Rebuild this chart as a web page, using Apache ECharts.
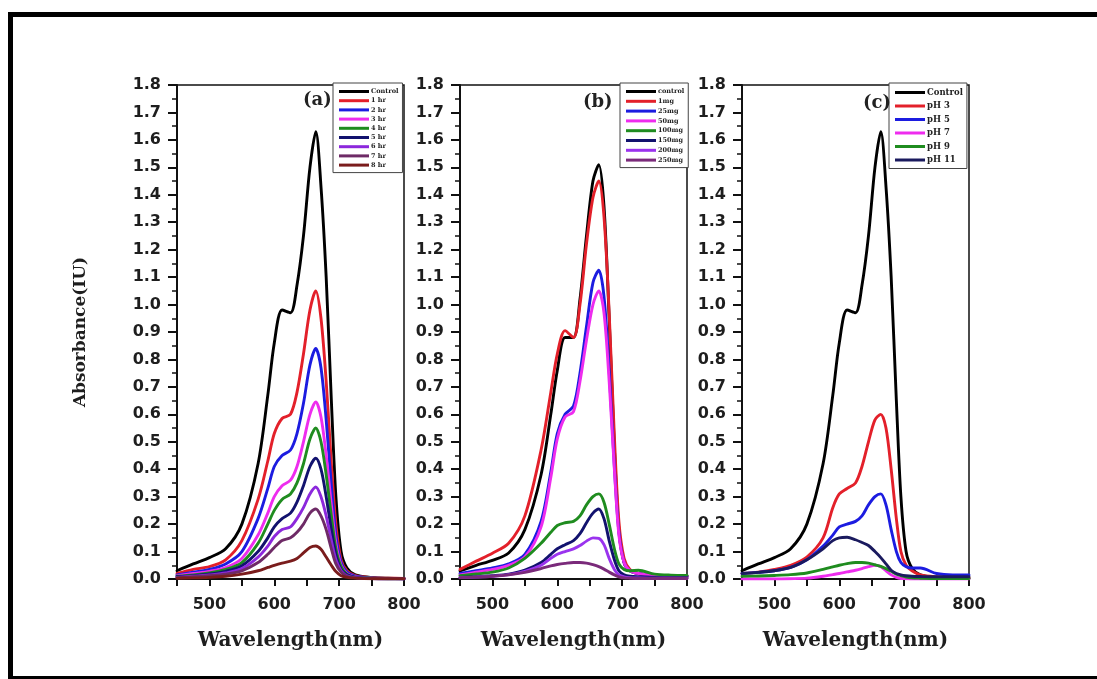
<!DOCTYPE html>
<html>
<head>
<meta charset="utf-8">
<title>Absorbance spectra</title>
<script src="https://cdn.jsdelivr.net/npm/echarts@6/dist/echarts.min.js"></script>
<style>
  html, body { margin: 0; padding: 0; background: #fff; }
  #chart { width: 1097px; height: 679px; }
</style>
</head>
<body>
<div id="chart"></div>
<script>
// Shared wavelength grid (nm)
const wavelengths = [450,475,500,525,550,575,590,600,612,625,635,645,655,664,672,680,688,695,703,712,725,750,775,800];

// Untreated dye spectrum (used in panels a and c)
const controlSpectrum = [0.03,0.055,0.078,0.11,0.2,0.42,0.67,0.86,0.98,0.97,1.07,1.25,1.5,1.63,1.43,1.1,0.65,0.3,0.1,0.04,0.015,0.006,0.003,0.002];

// (a) contact time
const timeLabels = ['Control','1 hr','2 hr','3 hr','4 hr','5 hr','6 hr','7 hr','8 hr'];
const hr1 = [0.02,0.035,0.045,0.07,0.14,0.29,0.43,0.53,0.585,0.6,0.68,0.82,0.98,1.05,0.95,0.72,0.42,0.2,0.07,0.03,0.012,0.005,0.003,0.002];
const hr2 = [0.015,0.025,0.035,0.055,0.1,0.22,0.33,0.41,0.45,0.47,0.53,0.64,0.78,0.84,0.77,0.58,0.34,0.16,0.06,0.025,0.01,0.004,0.002,0.001];
const hr3 = [0.012,0.02,0.028,0.042,0.075,0.16,0.24,0.3,0.34,0.36,0.41,0.5,0.6,0.645,0.59,0.45,0.27,0.13,0.05,0.02,0.008,0.003,0.002,0.001];
const hr4 = [0.01,0.015,0.022,0.035,0.06,0.13,0.2,0.25,0.29,0.31,0.35,0.42,0.51,0.55,0.5,0.38,0.23,0.11,0.045,0.018,0.007,0.003,0.001,0.001];
const hr5 = [0.008,0.012,0.018,0.028,0.048,0.1,0.15,0.19,0.22,0.24,0.28,0.34,0.41,0.44,0.4,0.3,0.18,0.09,0.035,0.015,0.006,0.002,0.001,0.001];
const hr6 = [0.006,0.01,0.015,0.022,0.038,0.08,0.12,0.155,0.18,0.19,0.22,0.26,0.31,0.335,0.3,0.23,0.14,0.07,0.03,0.012,0.005,0.002,0.001,0.001];
const hr7 = [0.005,0.008,0.012,0.018,0.03,0.06,0.09,0.115,0.14,0.15,0.17,0.2,0.24,0.255,0.23,0.18,0.11,0.055,0.025,0.01,0.004,0.002,0.001,0.001];
const hr8 = [0.003,0.004,0.006,0.01,0.018,0.03,0.042,0.05,0.058,0.065,0.075,0.095,0.115,0.12,0.108,0.08,0.05,0.027,0.012,0.006,0.003,0.001,0.001,0.001];

// (b) adsorbent dose
const doseLabels = ['control','1mg','25mg','50mg','100mg','150mg','200mg','250mg'];
const doseControl = [0.03,0.05,0.068,0.095,0.18,0.38,0.6,0.76,0.88,0.88,1.02,1.25,1.45,1.51,1.36,0.95,0.48,0.18,0.06,0.03,0.02,0.012,0.01,0.01];
const mg1 = [0.035,0.065,0.094,0.13,0.23,0.47,0.68,0.82,0.905,0.88,1.0,1.22,1.39,1.45,1.32,0.97,0.52,0.21,0.075,0.035,0.02,0.012,0.01,0.01];
const mg25 = [0.02,0.03,0.04,0.055,0.09,0.21,0.39,0.53,0.6,0.63,0.75,0.92,1.08,1.125,1.03,0.76,0.41,0.17,0.06,0.03,0.02,0.012,0.01,0.01];
const mg50 = [0.015,0.025,0.035,0.05,0.08,0.19,0.37,0.51,0.59,0.61,0.72,0.87,1.0,1.05,0.97,0.72,0.4,0.16,0.06,0.03,0.02,0.012,0.01,0.01];
const mg100 = [0.012,0.018,0.025,0.04,0.075,0.13,0.17,0.195,0.205,0.21,0.23,0.27,0.3,0.31,0.28,0.2,0.11,0.055,0.035,0.03,0.032,0.018,0.014,0.013];
const mg150 = [0.006,0.008,0.012,0.018,0.032,0.06,0.09,0.11,0.125,0.14,0.165,0.205,0.24,0.255,0.22,0.14,0.07,0.03,0.015,0.01,0.008,0.006,0.005,0.005];
const mg200 = [0.005,0.007,0.01,0.016,0.028,0.05,0.075,0.09,0.1,0.11,0.122,0.138,0.15,0.148,0.125,0.075,0.035,0.015,0.008,0.005,0.004,0.003,0.003,0.003];
const mg250 = [0.005,0.007,0.01,0.015,0.024,0.038,0.048,0.053,0.057,0.06,0.06,0.058,0.052,0.045,0.036,0.025,0.015,0.008,0.004,0.003,0.002,0.002,0.002,0.002];

// (c) solution pH
const phLabels = ['Control','pH 3','pH 5','pH 7','pH 9','pH 11'];
const ph3 = [0.02,0.025,0.035,0.05,0.08,0.15,0.26,0.31,0.33,0.35,0.41,0.5,0.58,0.6,0.55,0.4,0.22,0.1,0.05,0.03,0.015,0.008,0.006,0.005];
const ph5 = [0.02,0.024,0.03,0.042,0.07,0.12,0.16,0.19,0.2,0.21,0.23,0.27,0.3,0.31,0.27,0.18,0.1,0.06,0.045,0.04,0.04,0.02,0.015,0.015];
const ph7 = [0,0,0,0.001,0.003,0.01,0.016,0.02,0.026,0.032,0.038,0.045,0.05,0.045,0.03,0.015,0.006,0.002,0.001,0,0,0,0,0];
const ph9 = [0.01,0.011,0.013,0.016,0.022,0.035,0.044,0.05,0.056,0.06,0.06,0.058,0.052,0.046,0.038,0.028,0.018,0.012,0.007,0.004,0.003,0.002,0.002,0.002];
const ph11 = [0.02,0.024,0.03,0.042,0.07,0.11,0.14,0.15,0.152,0.143,0.133,0.122,0.1,0.078,0.055,0.032,0.02,0.015,0.012,0.01,0.009,0.008,0.008,0.008];

const yTicks = { min: 0, max: 1.8, interval: 0.1 };
const xTicks = { min: 450, max: 800, interval: 50 };

const panels = [
  { tag: '(a)', labels: timeLabels, data: [controlSpectrum, hr1, hr2, hr3, hr4, hr5, hr6, hr7, hr8],
    colors: ['#000000','#e3202a','#1c1ce0','#ee2cee','#1f8c1f','#12126e','#8c28dc','#6e2a66','#7a1c1c'],
    grid: { left: 177, right: 693 }, legend: { left: 333, top: 83, gap: 2.2, font: 6.5 }, tagPos: [318, 102] },
  { tag: '(b)', labels: doseLabels, data: [doseControl, mg1, mg25, mg50, mg100, mg150, mg200, mg250],
    colors: ['#000000','#e3202a','#1c1ce0','#ee2cee','#1f8c1f','#12126e','#9a33ee','#7a2a7a'],
    grid: { left: 460, right: 410 }, legend: { left: 620, top: 83, gap: 2.8, font: 6.5 }, tagPos: [598, 104] },
  { tag: '(c)', labels: phLabels, data: [controlSpectrum, ph3, ph5, ph7, ph9, ph11],
    colors: ['#000000','#e3202a','#1c1ce0','#ee2cee','#1f8c1f','#1a1a5e'],
    grid: { left: 742, right: 128 }, legend: { left: 889, top: 83, gap: 4.5, font: 8.5 }, tagPos: [878, 105] }
];

const tickFont = 'DejaVu Sans';
const titleFont = 'DejaVu Serif';

const grids = [], xAxes = [], yAxes = [], series = [], legends = [], graphics = [];

panels.forEach((p, i) => {
  grids.push({ left: p.grid.left, right: p.grid.right, top: 85, bottom: 100,
    show: true, borderColor: '#111', borderWidth: 1.5, backgroundColor: '#fff' });
  xAxes.push({
    type: 'value', gridIndex: i, min: xTicks.min, max: xTicks.max, interval: xTicks.interval,
    axisLine: { show: true, onZero: false, lineStyle: { color: '#111', width: 2 } },
    axisTick: { show: true, length: 7, lineStyle: { color: '#111', width: 2 } },
    splitLine: { show: false },
    axisLabel: { margin: 18, fontFamily: tickFont, fontWeight: 'bold', fontSize: 16, color: '#1e1e1e',
      formatter: v => (v % 100 === 0 && v > xTicks.min) ? String(v) : '' },
    name: 'Wavelength(nm)', nameLocation: 'middle', nameGap: 52,
    nameTextStyle: { fontFamily: titleFont, fontWeight: 'bold', fontSize: 20, color: '#1e1e1e' }
  });
  yAxes.push({
    type: 'value', gridIndex: i, min: yTicks.min, max: yTicks.max, interval: yTicks.interval,
    axisLine: { show: true, lineStyle: { color: '#111', width: 2 } },
    axisTick: { show: true, length: 9, lineStyle: { color: '#111', width: 2 } },
    minorTick: { show: true, splitNumber: 2, length: 5, lineStyle: { color: '#111', width: 1.5 } },
    splitLine: { show: false },
    axisLabel: { margin: 16, fontFamily: tickFont, fontWeight: 'bold', fontSize: 16, color: '#1e1e1e',
      formatter: v => v.toFixed(1) },
    name: i === 0 ? 'Absorbance(IU)' : '', nameLocation: 'middle', nameGap: 88,
    nameTextStyle: { fontFamily: titleFont, fontWeight: 'bold', fontSize: 17, color: '#1e1e1e' }
  });
  p.labels.forEach((name, k) => {
    series.push({
      type: 'line', name: name, xAxisIndex: i, yAxisIndex: i,
      data: wavelengths.map((w, j) => [w, p.data[k][j]]),
      smooth: 0.3, showSymbol: false, symbol: 'none',
      lineStyle: { color: p.colors[k], width: 2.9, cap: 'round', join: 'round' }, itemStyle: { color: p.colors[k] },
      z: 2, silent: true
    });
  });
  legends.push({
    data: p.labels.map(n => ({ name: n })),
    orient: 'vertical', left: p.legend.left, top: p.legend.top,
    icon: 'rect', itemWidth: 30, itemHeight: 3, itemGap: p.legend.gap,
    padding: [5, 4, 4, 6], borderColor: '#444', borderWidth: 1, backgroundColor: '#fff',
    textStyle: { fontFamily: titleFont, fontWeight: 'bold', fontSize: p.legend.font, color: '#222', padding: [0, 0, 0, -3] },
    selectedMode: false, z: 5
  });
  graphics.push({
    type: 'text', left: p.tagPos[0] - 15, top: p.tagPos[1] - 11, z: 6,
    style: { text: p.tag, fontFamily: titleFont, fontWeight: 'bold', fontSize: 18, fill: '#222' }
  });
});

// outer frame
graphics.push({
  type: 'rect', z: 10, silent: true,
  shape: { x: 10.5, y: 14.5, width: 1100, height: 664 },
  style: { fill: 'none', stroke: '#000', lineWidth: 5 }
});

const chart = echarts.init(document.getElementById('chart'), null, { renderer: 'canvas' });
chart.setOption({
  backgroundColor: '#fff',
  animation: false,
  grid: grids,
  xAxis: xAxes,
  yAxis: yAxes,
  legend: legends,
  series: series,
  graphic: graphics
});
</script>
</body>
</html>
